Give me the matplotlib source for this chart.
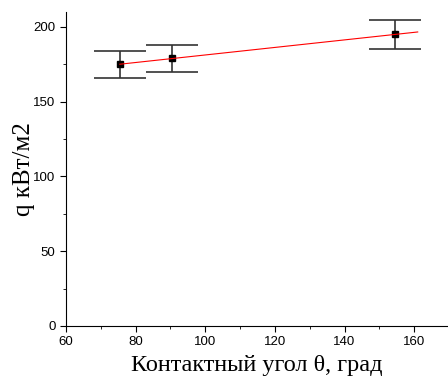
import numpy as np
import matplotlib
matplotlib.use("Agg")
import matplotlib.pyplot as plt
from matplotlib.ticker import MultipleLocator

theta = [75.5, 90.5, 154.5]
q = [175, 179, 195]
q_err = [9, 9, 10]

fig = plt.figure(figsize=(4.48, 3.76), dpi=100)
ax = fig.add_axes([0.147, 0.133, 0.853, 0.835])

ax.errorbar(theta, q, yerr=q_err, fmt='s', color='black', ms=5,
            ecolor='#333333', elinewidth=1.2, capsize=18.5, capthick=1.2, zorder=3)

k, b = np.polyfit(theta, q, 1)
xf = np.array([theta[0], 161])
ax.plot(xf, k * xf + b, color='red', lw=0.8, zorder=4)

ax.set_xlim(60, 169.7)
ax.set_ylim(0, 210)
ax.xaxis.set_major_locator(MultipleLocator(20))
ax.xaxis.set_minor_locator(MultipleLocator(10))
ax.yaxis.set_major_locator(MultipleLocator(50))
ax.yaxis.set_minor_locator(MultipleLocator(25))
for s in ['top', 'right']:
    ax.spines[s].set_visible(False)
ax.tick_params(which='both', direction='out', labelsize=9.5)
ax.tick_params(which='major', length=4)
ax.tick_params(which='minor', length=2.5)
for lbl in ax.get_xticklabels() + ax.get_yticklabels():
    lbl.set_fontfamily('Liberation Sans')

ax.set_xlabel('Контактный угол θ, град', family='Liberation Serif', fontsize=17.5, labelpad=5)
ax.set_ylabel('q кВт/м2', family='Liberation Serif', fontsize=18, labelpad=-1)

fig.savefig('out.png', dpi=100)
